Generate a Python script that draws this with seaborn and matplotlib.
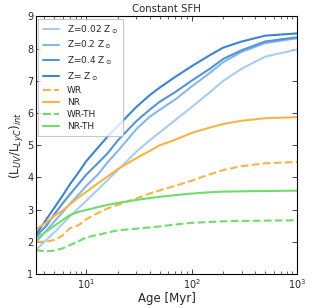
import numpy as np
import pandas as pd
import matplotlib
matplotlib.use("Agg")
import matplotlib.pyplot as plt
import seaborn as sns

ages = [3.35, 4.2, 5, 6, 7, 8.5, 10, 13, 16, 20, 30, 40, 50, 70, 100, 150, 200, 300, 500, 1000]

z002 = [1.75, 2.06, 2.30, 2.56, 2.79, 3.05, 3.27, 3.63, 3.92, 4.23, 4.80, 5.15, 5.40, 5.78, 6.18, 6.65, 7.00, 7.38, 7.75, 7.97]
z02 = [2.00, 2.35, 2.63, 2.92, 3.18, 3.47, 3.73, 4.10, 4.47, 4.82, 5.50, 5.88, 6.10, 6.42, 6.82, 7.25, 7.58, 7.90, 8.17, 8.32]
z04 = [2.17, 2.50, 2.86, 3.20, 3.47, 3.80, 4.08, 4.45, 4.75, 5.15, 5.75, 6.10, 6.35, 6.65, 7.00, 7.38, 7.68, 7.95, 8.22, 8.35]
zsun = [2.23, 2.70, 3.06, 3.44, 3.78, 4.16, 4.50, 4.93, 5.27, 5.60, 6.19, 6.55, 6.79, 7.12, 7.45, 7.80, 8.03, 8.22, 8.40, 8.47]
wr = [2.00, 2.01, 2.06, 2.20, 2.42, 2.52, 2.70, 2.90, 3.04, 3.15, 3.35, 3.50, 3.60, 3.74, 3.90, 4.10, 4.23, 4.35, 4.44, 4.48]
nr = [2.40, 2.60, 2.81, 2.98, 3.16, 3.38, 3.55, 3.82, 4.03, 4.26, 4.60, 4.82, 5.00, 5.17, 5.38, 5.55, 5.66, 5.76, 5.84, 5.87]
wr_th = [1.74, 1.71, 1.73, 1.80, 1.90, 2.02, 2.14, 2.22, 2.29, 2.36, 2.41, 2.45, 2.48, 2.54, 2.59, 2.62, 2.64, 2.65, 2.66, 2.67]
nr_th = [2.12, 2.32, 2.50, 2.68, 2.83, 2.93, 2.99, 3.08, 3.15, 3.21, 3.30, 3.36, 3.40, 3.45, 3.50, 3.54, 3.56, 3.57, 3.58, 3.59]

labels = [r"Z=0.02 Z$_\odot$", r"Z=0.2 Z$_\odot$", r"Z=0.4 Z$_\odot$", r"Z= Z$_\odot$",
          "WR", "NR", "WR-TH", "NR-TH"]
series = [z002, z02, z04, zsun, wr, nr, wr_th, nr_th]
colors = ["#a9cdf0", "#86b8e8", "#5394d8", "#3f84cc",
          "#f5b445", "#f5b445", "#6edc6e", "#6edc6e"]
styles = ["-", "-", "-", "-", "--", "-", "--", "-"]

df = pd.DataFrame({
    "age": np.tile(ages, len(series)),
    "val": np.concatenate(series),
    "label": np.repeat(labels, len(ages)),
})

sns.set_style("ticks")
plt.rcParams["font.family"] = ["DejaVu Sans"]
plt.rcParams["mathtext.fontset"] = "dejavusans"

fig = plt.figure(figsize=(3.13, 3.08), dpi=100)
ax = fig.add_axes([0.115, 0.110, 0.834, 0.837])

for lab, col, ls in zip(labels, colors, styles):
    sub = df[df["label"] == lab]
    sns.lineplot(data=sub, x="age", y="val", ax=ax, color=col, linestyle=ls,
                 linewidth=1.5, label=lab, estimator=None, sort=False)

ax.set_xscale("log")
ax.set_xlim(3.35, 1000)
ax.set_ylim(1, 9)
ax.set_yticks(range(1, 10))
ax.set_xlabel("Age [Myr]", fontsize=8.5, labelpad=1)
ax.set_ylabel(r"(L$_{UV}$/L$_{LyC}$)$_{int}$", fontsize=8.5, labelpad=1)
ax.set_title("Constant SFH", fontsize=7.3, pad=3)
ax.tick_params(which="both", direction="in", top=True, right=True, labelsize=7,
               pad=2)
ax.tick_params(which="major", length=3.5, width=0.6)
ax.tick_params(which="minor", length=2, width=0.5)
for s in ax.spines.values():
    s.set_linewidth(0.8)
    s.set_color("black")

leg = ax.legend(loc="upper left", fontsize=6.5, frameon=True, fancybox=False,
                handlelength=1.8, handletextpad=0.9, labelspacing=0.35,
                borderpad=0.5, borderaxespad=0.25)
leg.get_frame().set_edgecolor("#bbbbbb")
leg.get_frame().set_linewidth(0.8)

fig.savefig("out.png", dpi=100)
